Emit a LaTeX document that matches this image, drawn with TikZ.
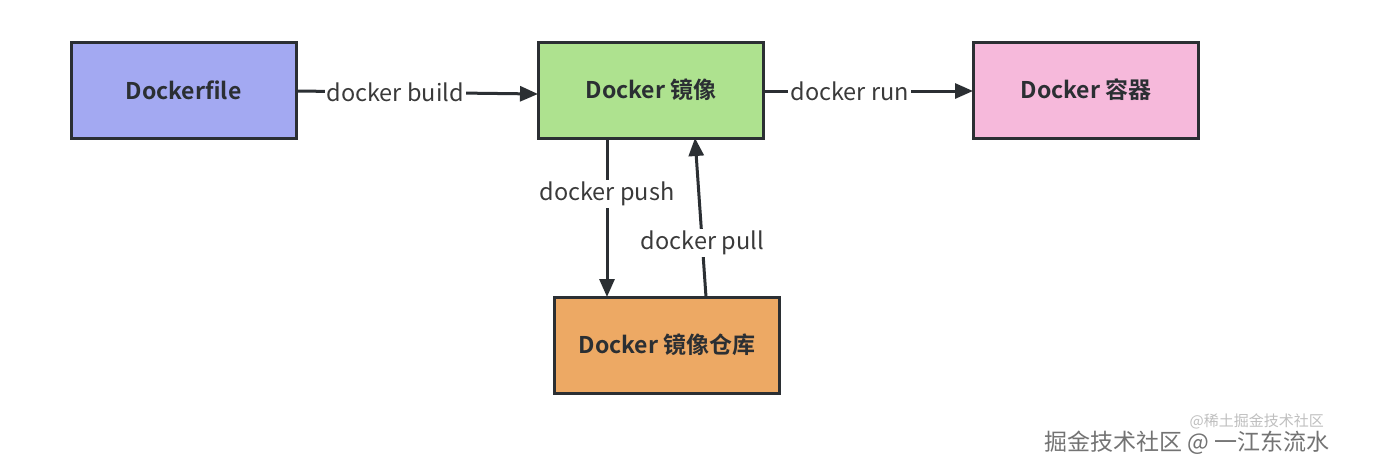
\documentclass[tikz,border=0pt]{standalone}
\usepackage{fontspec}
\setmainfont{Noto Sans CJK SC}[BoldFont={Noto Sans CJK SC Bold}]
\usetikzlibrary{arrows.meta}
\definecolor{edge}{HTML}{2B2F33}
\definecolor{cblue}{HTML}{A3A9F2}
\definecolor{cgreen}{HTML}{AEE28F}
\definecolor{cpink}{HTML}{F6B9DB}
\definecolor{corange}{HTML}{EDA964}
\definecolor{ltext}{HTML}{3A3A3A}
\tikzset{
  box/.style={draw=edge, line width=3pt, minimum width=225pt, minimum height=96pt, inner sep=0pt, font=\fontsize{23}{26}\selectfont\bfseries, text=edge},
  conn/.style={draw=edge, line width=3pt, -{Triangle[length=18pt,width=15pt]}},
  lbl/.style={fill=white, inner sep=2pt, font=\fontsize{23.5}{26}\selectfont, text=ltext},
}
\begin{document}
\begin{tikzpicture}[x=1pt,y=-1pt]
\useasboundingbox (0,0) rectangle (1374,474);
\fill[white] (0,0) rectangle (1374,474);
\node[box, fill=cblue] (df) at (183.5,90) {Dockerfile};
\node[box, fill=cgreen] (img) at (651,90) {Docker 镜像};
\node[box, fill=cpink] (ctr) at (1086,90) {Docker 容器};
\node[box, fill=corange] (repo) at (667,345) {Docker 镜像仓库};
\coordinate (b1) at (296,91);
\coordinate (b2) at (538,94);
\draw[conn] (b1) -- node[lbl, pos=0.41] {docker build} (b2);
\coordinate (r1) at (764,91);
\coordinate (r2) at (973,91);
\draw[conn] (r1) -- node[lbl, pos=0.41] {docker run} (r2);
\coordinate (p1) at (607,138);
\coordinate (p2) at (607,297);
\draw[conn] (p1) -- node[lbl, pos=0.35] {docker push} (p2);
\coordinate (q1) at (706,297);
\coordinate (q2) at (695,138);
\draw[conn] (q1) -- node[lbl, pos=0.34] {docker pull} (q2);
\node[font=\fontsize{15}{17}\selectfont, text=black!25, anchor=east, inner sep=0pt] (wm1) at (1324,421) {@稀土掘金技术社区};
\node[font=\fontsize{23}{26}\selectfont, text=black!55, anchor=east, inner sep=0pt] (wm2) at (1330,443) {掘金技术社区 @ 一江东流水};
\end{tikzpicture}
\end{document}
